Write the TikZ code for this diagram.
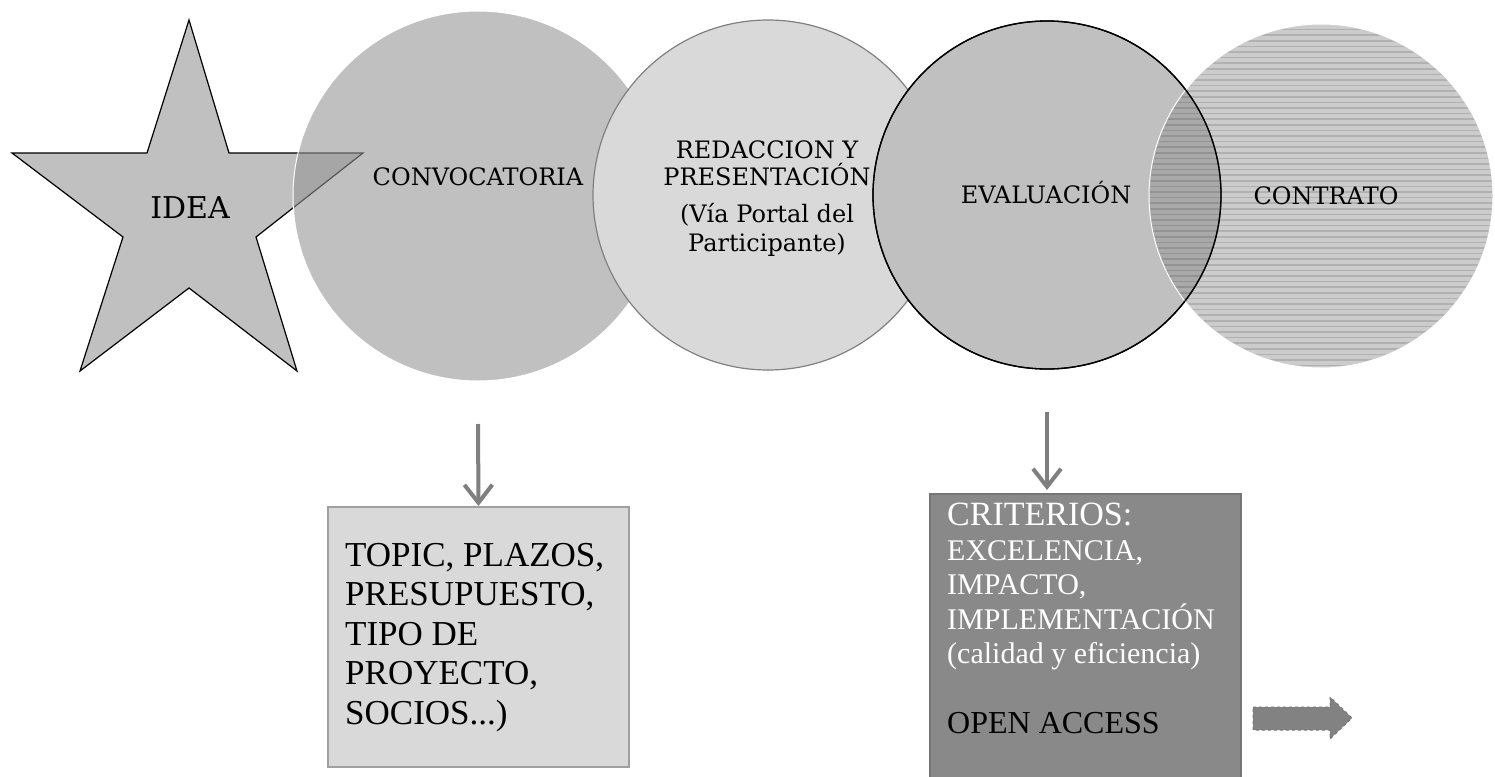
\documentclass[tikz,border=0pt]{standalone}
\usepackage{fontspec}
\setmainfont{Liberation Serif}
\newfontfamily\dvs{DejaVu Serif}
\usetikzlibrary{arrows.meta}
\definecolor{starfill}{RGB}{192,192,192}
\definecolor{convfill}{RGB}{148,148,148}
\definecolor{redfill}{RGB}{217,217,217}
\definecolor{redline}{RGB}{128,128,128}
\definecolor{evalfill}{RGB}{192,192,192}
\definecolor{contfill}{RGB}{143,143,143}
\definecolor{arrgray}{RGB}{127,127,127}
\definecolor{boxafill}{RGB}{217,217,217}
\definecolor{boxaline}{RGB}{160,160,160}
\definecolor{boxbfill}{RGB}{137,137,137}
\definecolor{boxbline}{RGB}{118,118,118}
\definecolor{blkarrow}{RGB}{130,130,130}
\begin{document}
\begin{tikzpicture}[x=1pt,y=-1pt,
  circ/.style={circle, inner sep=0pt, outer sep=0pt},
  lbl/.style={font=\dvs\fontsize{24}{27}\selectfont, inner sep=0pt, align=center},
  boxtext/.style={inner sep=0pt, align=left, anchor=north west},
  varrow/.style={draw=arrgray, line width=4pt, -{Straight Barb[length=18pt,width=28pt]}},
]
\useasboundingbox (0,0) rectangle (1495,776);
\fill[white] (0,0) rectangle (1495,776);
% star
\draw[fill=starfill, line width=1.2pt] (189,20) -- (229,153) -- (363,153) -- (256,237) -- (297,371) -- (189,288) -- (80,371) -- (123,237) -- (12,153) -- (147,153) -- cycle;
% circles
\node[circ, minimum size=370pt, fill=convfill, fill opacity=0.59, draw=white, line width=1pt] (conv) at (478,196) {};
\node[circ, minimum size=350pt, fill=redfill, draw=redline, line width=1.2pt] (red) at (768,195) {};
\node[circ, minimum size=348pt, fill=evalfill, draw=black, line width=1.3pt] (eval) at (1047,195) {};
\node[circ, minimum size=344pt, fill=contfill, fill opacity=0.45, draw=white, line width=1pt] (cont) at (1321,196) {};
\begin{scope}
  \clip (cont.center) circle[radius=171pt];
  \foreach \k in {0,...,62} \draw[black, opacity=0.13, line width=1.6pt] (1140,24+5.6*\k) -- (1500,24+5.6*\k);
\end{scope}
\draw[line width=1.3pt] (eval.center) circle[radius=174pt];
% circle labels
\node[lbl, font=\dvs\fontsize{30}{34}\selectfont, anchor=base] (idea) at (190,218) {IDEA};
\node[lbl, anchor=base] (convt) at (478,185) {CONVOCATORIA};
\node[lbl, anchor=north] (redt) at (767,140) {REDACCION Y\\PRESENTACIÓN};
\node[lbl, font=\dvs\fontsize{24}{29}\selectfont, anchor=north] (redv) at (767,203) {(Vía Portal del\\Participante)};
\node[lbl, anchor=base] (evalt) at (1046,203) {EVALUACIÓN};
\node[lbl, anchor=base] (contt) at (1326,204) {CONTRATO};
% boxes
\node[draw=boxaline, fill=boxafill, line width=2pt, minimum width=301pt, minimum height=260pt, anchor=north west, inner sep=0pt] (topic) at (327,506) {};
\node[boxtext, font=\fontsize{35}{39.5}\selectfont] (topict) at (345,543) {TOPIC, PLAZOS,\\PRESUPUESTO,\\TIPO DE\\PROYECTO,\\SOCIOS...)};
\node[draw=boxbline, fill=boxbfill, line width=2pt, minimum width=311pt, minimum height=290pt, anchor=north west, inner sep=0pt] (crit) at (929,493) {};
\node[boxtext, text=white, font=\fontsize{34}{38}\selectfont] (critt) at (947,502.5) {CRITERIOS:};
\node[boxtext, text=white, font=\fontsize{30}{34.5}\selectfont] (critl) at (947,540) {EXCELENCIA,\\IMPACTO,\\IMPLEMENTACIÓN\\(calidad y eficiencia)};
\node[boxtext, text=black, font=\fontsize{32}{36}\selectfont] (oa) at (947,712) {OPEN ACCESS};
% arrows
\draw[varrow] ([yshift=-43pt]conv.south) -- (topic.north);
\draw[varrow] ([yshift=-43pt]eval.south) -- ([yshift=3pt]eval.south |- crit.north);
% dashed block arrow
\draw[dashed, draw=boxbline, fill=blkarrow, line width=1pt] (1253,707) -- (1330,707) -- (1330,697) -- (1352,718) -- (1330,739) -- (1330,730) -- (1253,730) -- cycle;
\end{tikzpicture}
\end{document}
